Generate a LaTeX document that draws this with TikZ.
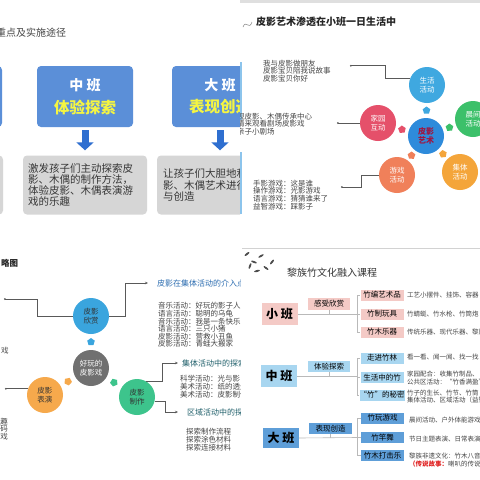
\documentclass[tikz,border=0pt]{standalone}
\usepackage{fontspec}
\setmainfont{Noto Sans CJK SC}
\usetikzlibrary{shapes.geometric,arrows.meta,calc}

\definecolor{bxblue}{HTML}{5B8FD8}
\definecolor{arblue}{HTML}{2F6FD0}
\definecolor{bxgray}{HTML}{D6D6D6}
\definecolor{ylw}{HTML}{F5F542}
\definecolor{txgray}{HTML}{444444}
\definecolor{cshhd}{HTML}{3FA8E0}
\definecolor{cjyhd}{HTML}{E5506A}
\definecolor{cpyys}{HTML}{2E8BDB}
\definecolor{cdred}{HTML}{A0153E}
\definecolor{ccjhd}{HTML}{3CC06A}
\definecolor{cyxhd}{HTML}{F0805A}
\definecolor{cjthd}{HTML}{F4A53A}
\definecolor{cxs}{HTML}{3AA5DE}
\definecolor{chw}{HTML}{707070}
\definecolor{cby}{HTML}{F6A94C}
\definecolor{czz}{HTML}{3DC48C}
\definecolor{tblue}{HTML}{2B6CB0}
\definecolor{tteal}{HTML}{1F5F6A}
\definecolor{cpink}{HTML}{F4CAC6}
\definecolor{clblue}{HTML}{A8D6F0}
\definecolor{cdblue}{HTML}{5E9ED8}
\definecolor{cred}{HTML}{E02020}
\definecolor{strip}{HTML}{8CC4EC}

\tikzset{
  bbox/.style={rectangle, rounded corners=4pt, fill=bxblue, minimum height=61pt, minimum width=96pt, inner sep=0pt},
  gbox/.style={rectangle, rounded corners=4pt, fill=bxgray, minimum height=59pt, inner sep=0pt},
  barr/.style={line width=7pt, draw=arblue, -{Triangle[width=17pt,length=8pt]}, shorten <=3pt, shorten >=5pt},
  bub/.style={circle, minimum size=36pt, inner sep=0pt, align=center, font=\fontsize{7.5}{9}\selectfont},
  pent/.style={regular polygon, regular polygon sides=5, minimum size=8pt, inner sep=0pt},
  ln/.style={draw=gray!70!black, line width=0.6pt},
  lnarr/.style={ln, -{Stealth[length=3pt,width=2.5pt]}},
  dot/.style={circle, fill=gray!70!black, inner sep=0pt, minimum size=2pt},
  lst/.style={anchor=west, align=left, inner sep=0pt, text=txgray, font=\fontsize{7.5}{7.8}\selectfont},
  kbox/.style={rectangle, minimum width=36pt, minimum height=22pt, inner sep=0pt, font=\bfseries\fontsize{12}{12}\selectfont},
  tbox/.style={rectangle, minimum width=43pt, minimum height=11pt, inner sep=0pt, font=\fontsize{7.5}{8}\selectfont},
  tr/.style={draw=gray!55, line width=0.6pt},
  rtx/.style={anchor=west, align=left, inner sep=0pt, text=txgray, font=\fontsize{6.5}{7.5}\selectfont},
}

\begin{document}
\begin{tikzpicture}[x=1pt,y=-1pt]
\useasboundingbox (0,0) rectangle (480,480);
\fill[white] (0,0) rectangle (480,480);

% top left
\begin{scope}
\clip (0,0) rectangle (240,240);
\node [anchor=west, inner sep=0pt, text=txgray, font=\fontsize{10}{10}\selectfont] (ttl1) at (-4,33) {重点及实施途径};
\node [bbox, minimum width=60pt] (xbox) at (-28,96.5) {};
\node [bbox] (zbox) at (85,96.5) {};
\node [bbox] (dbox) at (220,96.5) {};
\node [text=white, font=\bfseries\fontsize{14}{14}\selectfont] (zbt) at (85,85) {中 班};
\node [text=ylw, font=\bfseries\fontsize{15.5}{16}\selectfont] (zbs) at (85,107) {体验探索};
\node [text=white, font=\bfseries\fontsize{14}{14}\selectfont] (dbt) at (220,85) {大 班};
\node [text=ylw, font=\bfseries\fontsize{15.5}{16}\selectfont] (dbs) at (220,107) {表现创造};
\node [gbox, minimum width=56pt] (xgray) at (-25,185) {};
\node [gbox, minimum width=124pt] (zgray) at (85,185) {};
\node [gbox, minimum width=126pt] (dgray) at (220,185) {};
\draw [barr] (zbox) -- (zgray);
\draw [barr] (dbox) -- (dgray);
\node [lst, text=txgray!80!black, font=\fontsize{10.5}{11.2}\selectfont] (zgt) at (28,185) {激发孩子们主动探索皮\\影、木偶的制作方法，\\体验皮影、木偶表演游\\戏的乐趣};
\node [lst, text=txgray!80!black, font=\fontsize{10.5}{11.5}\selectfont] (dgt) at (163,185) {让孩子们大胆地和\\影、木偶艺术进行\\与创造};
\end{scope}

% top right
\begin{scope}
\clip (240,0) rectangle (480,240);
\fill [gray!25] (240,0) rectangle (480,3);
\fill [strip] (240,62) rectangle (242,120);
\fill [strip] (240,152) rectangle (242,214);
\draw [gray, line width=0.5pt] (243,27) .. controls (246,19) and (249,31) .. (252,22);
\node [anchor=west, inner sep=0pt, text=black!85, font=\bfseries\fontsize{10}{10}\selectfont] (ttl2) at (256,22) {皮影艺术渗透在小班一日生活中};
\node [bub, fill=cshhd, text=white] (shhd) at (427,85) {生活\\活动};
\node [bub, fill=cjyhd, text=white] (jyhd) at (378,123) {家园\\互动};
\node [bub, fill=cpyys, text=cdred, font=\bfseries\fontsize{8}{9}\selectfont] (pyys) at (426,136) {皮影\\艺术};
\node [bub, fill=ccjhd, text=white] (cjhd) at (473,119) {晨间\\活动};
\node [bub, fill=cyxhd, text=white] (yxhd) at (397,175) {游戏\\活动};
\node [bub, fill=cjthd, text=white] (jthd) at (460,172) {集体\\活动};
\node [pent, fill=cshhd] (k1) at ($(pyys)!0.5!(shhd)$) {};
\node [pent, fill=cjyhd, rotate=75] (k2) at ($(pyys)!0.5!(jyhd)$) {};
\node [pent, fill=ccjhd, rotate=-70] (k3) at ($(pyys)!0.5!(cjhd)$) {};
\node [pent, fill=cyxhd, rotate=143] (k4) at ($(pyys)!0.5!(yxhd)$) {};
\node [pent, fill=cjthd, rotate=-137] (k5) at ($(pyys)!0.5!(jthd)$) {};
\node [lst] (shl) at (263,71) {我与皮影做朋友\\皮影宝贝陪我说故事\\皮影宝贝你好};
\node [lst] (jyl) at (237,124) {观皮影、木偶传承中心\\请来观看剧场皮影戏\\亲子小剧场};
\node [lst] (yxl) at (253,195) {手影游戏：这是谁\\操作游戏：光影游戏\\语言游戏：猜猜谁来了\\益智游戏：踩影子};
\draw [ln] (shhd.160) -- ++(-25,0) -- ++(0,-13) -- ++(-34,0) node[dot] (d1) {};
\draw [ln] (jyhd.west) -- ++(-22,0) node[dot] (d2) {};
\draw [ln] (yxhd.west) -- ++(-18,0) -- ++(0,12) -- ++(-19,0) node[dot] (d3) {};
\end{scope}

% bottom left
\begin{scope}
\clip (0,240) rectangle (240,480);
\node [anchor=west, inner sep=0pt, text=black!85, font=\bfseries\fontsize{8.5}{9}\selectfont] (ttl3) at (1,263) {略图};
\node [bub, fill=cxs, text=black!80] (pyxs) at (91,316) {皮影\\欣赏};
\node [bub, fill=chw, text=white] (hwpy) at (91,368) {好玩的\\皮影戏};
\node [bub, fill=cby, text=black!80] (pybiao) at (45,395) {皮影\\表演};
\node [bub, fill=czz, text=black!80] (pyzz) at (137,397) {皮影\\制作};
\node [pent, fill=cxs] (k6) at ($(hwpy)!0.5!(pyxs)$) {};
\node [pent, fill=cby, rotate=120] (k7) at ($(hwpy)!0.5!(pybiao)$) {};
\node [pent, fill=czz, rotate=-122] (k8) at ($(hwpy)!0.5!(pyzz)$) {};
\node [anchor=west, inner sep=0pt, text=tblue, font=\fontsize{8}{8}\selectfont] (jrd) at (157,283) {皮影在集体活动的介入点};
\node [lst, font=\fontsize{7.5}{7.6}\selectfont] (jrl) at (158,325) {音乐活动：好玩的影子人\\语言活动：聪明的乌龟\\音乐活动：我是一条快乐\\语言活动：三只小猪\\皮影活动：营救小丑鱼\\皮影活动：青蛙大搬家};
\node [anchor=west, inner sep=0pt, text=tteal, font=\fontsize{8}{8}\selectfont] (jtts) at (182,363) {集体活动中的探索};
\node [lst] (jtl) at (180,386.5) {科学活动：光与影\\美术活动：纸的透光\\美术活动：皮影制作};
\node [anchor=west, inner sep=0pt, text=tteal, font=\fontsize{8}{8}\selectfont] (qyts) at (187,412) {区域活动中的探索};
\node [lst] (qyl) at (186,439.5) {探索制作流程\\探索涂色材料\\探索连接材料};
\node [lst] (lx1) at (1,351) {戏};
\node [lst, anchor=east, align=right] (lx2) at (8,429) {趣\\码\\戏};
\draw [lnarr, shorten >=9pt] (pyxs.east) -- ++(16,0) |- (jrd.west);
\draw [ln] (pyxs.west) -- ++(-36,0) -- ++(0,-17) -- ++(-32,0) node[dot] (d4) {};
\draw [ln] (pybiao.160) -- ++(-22,0) node[dot] (d5) {};
\draw [lnarr, shorten >=4pt] (pyzz.60) -- ++(16,0) |- (jtts.west);
\draw [lnarr, shorten >=9pt] (pyzz.-15) -- ++(11,0) |- (qyts.west);
\end{scope}

% bottom right
\begin{scope}
\clip (240,240) rectangle (480,480);
\draw [gray!35] (242,248) -- (480,248);
\foreach \x/\y/\r in {247/254/40, 254/262/-20, 261/256/30, 266/268/-35, 257/271/15, 272/262/50, 250/266/70}
  \fill [gray!60!black, rotate around={\r:(\x,\y)}] (\x,\y) ellipse (3pt and 1pt);
\node [anchor=west, inner sep=0pt, text=black!80, font=\fontsize{10}{10}\selectfont] (ttl4) at (287,273) {黎族竹文化融入课程};
% small class
\node [kbox, fill=cpink] (xban) at (279.5,314) {小 班};
\node [tbox, fill=cpink, minimum width=42pt, minimum height=12pt] (gsxs) at (329,304) {感受欣赏};
\node [tbox, fill=cpink] (zbys) at (382,295) {竹编艺术品};
\node [tbox, fill=cpink] (zzwj) at (382,314) {竹制玩具};
\node [tbox, fill=cpink] (zmyq) at (382,332) {竹木乐器};
\coordinate (xj) at (357,314);
\draw [tr] (xban.east) -- (xj);
\draw [tr] (gsxs.south) -- (gsxs.south |- xj);
\draw [tr] (xj |- zbys.west) -- (xj |- zmyq.west);
\draw [tr] (xj |- zbys.west) -- (zbys.west);
\draw [tr] (xj |- zzwj.west) -- (zzwj.west);
\draw [tr] (xj |- zmyq.west) -- (zmyq.west);
\node [rtx] (zbyt) at (407,295) {工艺小摆件、挂饰、容器};
\node [rtx] (zzwt) at (407,314) {竹蜻蜓、竹水枪、竹筒炮};
\node [rtx] (zmyt) at (407,332) {传统乐器、现代乐器、黎族};
% middle class
\node [kbox, fill=clblue] (zban) at (279,376) {中 班};
\node [tbox, fill=clblue, minimum width=42pt] (tyts) at (329,366.5) {体验探索};
\node [tbox, fill=clblue] (zjzl) at (382,358) {走进竹林};
\node [tbox, fill=clblue] (shzz) at (382,377.5) {生活中的竹};
\node [tbox, fill=clblue] (zdmm) at (382,395) {“竹”的秘密};
\coordinate (zj) at (357,376);
\draw [tr] (zban.east) -- (zj);
\draw [tr] (tyts.south) -- (tyts.south |- zj);
\draw [tr] (zj |- zjzl.west) -- (zj |- zdmm.west);
\draw [tr] (zj |- zjzl.west) -- (zjzl.west);
\draw [tr] (zj |- shzz.west) -- (shzz.west);
\draw [tr] (zj |- zdmm.west) -- (zdmm.west);
\node [rtx] (zjzt) at (407,357) {看一看、闻一闻、找一找};
\node [rtx] (shzt) at (407,378) {家园配合：收集竹制品、\\公共区活动：“竹香满盈”};
\node [rtx] (zdmt) at (407,396.5) {竹子的生长、竹节、竹筒\\集体活动、区域活动（益智};
% big class
\node [kbox, fill=cdblue, minimum height=20pt] (dban) at (281,438) {大 班};
\node [tbox, fill=cdblue] (bxcz) at (330.5,428.5) {表现创造};
\node [tbox, fill=cdblue] (zwyx) at (382.5,418) {竹玩游戏};
\node [tbox, fill=cdblue] (zgw) at (382.5,437.5) {竹竿舞};
\node [tbox, fill=cdblue] (zmdj) at (382.5,455.5) {竹木打击乐};
\coordinate (dj) at (357,437.5);
\draw [tr] (dban.east) -- (dj);
\draw [tr] (bxcz.south) -- (bxcz.south |- dj);
\draw [tr] (dj |- zwyx.west) -- (dj |- zmdj.west);
\draw [tr] (dj |- zwyx.west) -- (zwyx.west);
\draw [tr] (dj |- zgw.west) -- (zgw.west);
\draw [tr] (dj |- zmdj.west) -- (zmdj.west);
\node [rtx] (zwyt) at (409,420) {晨间活动、户外体能游戏};
\node [rtx] (zgwt) at (409,439) {节日主题表演、日常表演};
\node [rtx] (zmdt) at (409,460) {黎族非遗文化：竹木八音\\{\color{cred}\bfseries（传说故事：}喇叭的传说};
\end{scope}
\end{tikzpicture}
\end{document}
